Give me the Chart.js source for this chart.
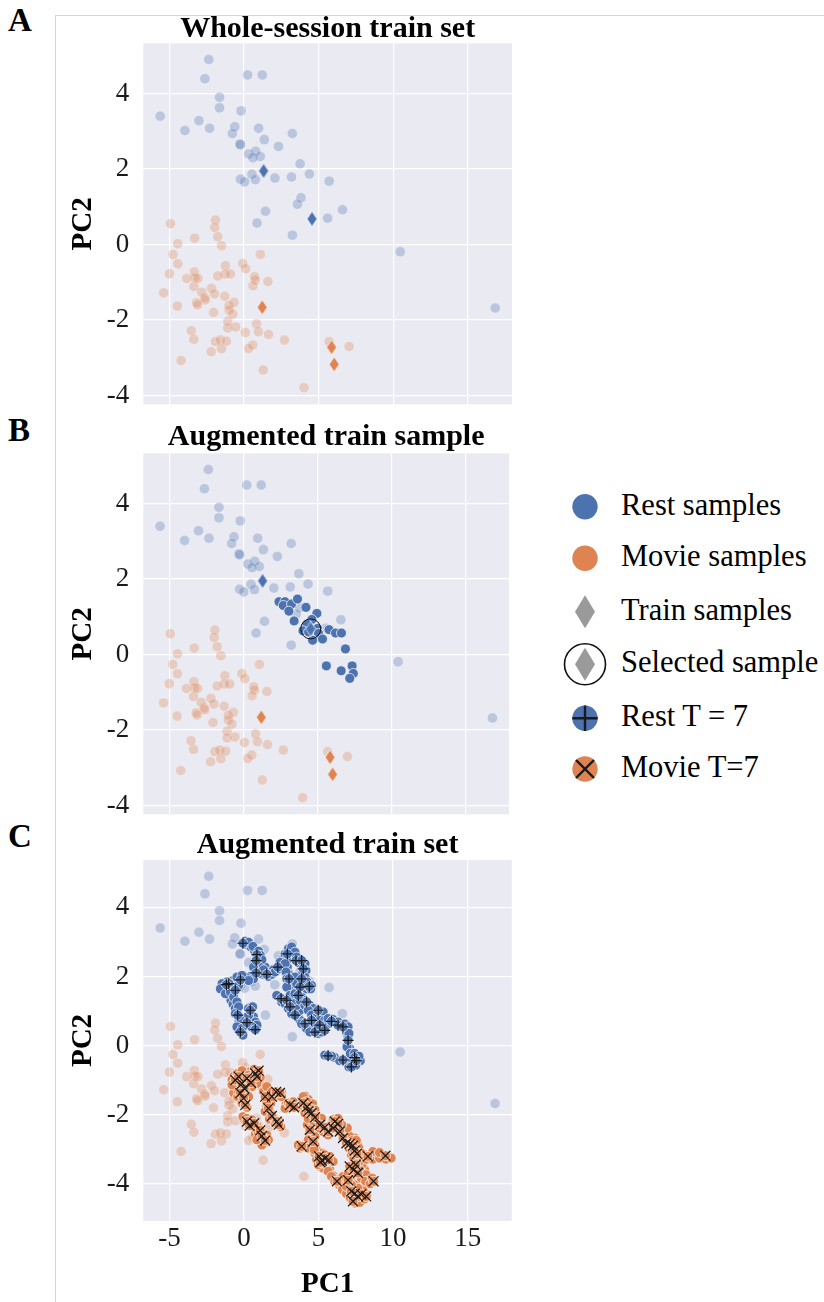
<!DOCTYPE html>
<html>
<head>
<meta charset="utf-8">
<script src="https://cdn.jsdelivr.net/npm/chart.js@4.4.1/dist/chart.umd.min.js"></script>
<style>
  html, body { margin: 0; padding: 0; background: #fff; }
  body { width: 824px; height: 1302px; position: relative; overflow: hidden;
         font-family: "Liberation Serif", "Times New Roman", serif; color: #000; }
  .frame { position: absolute; left: 55px; top: 15px; width: 769px; height: 1287px;
           border-left: 1px solid #d4d4d4; border-top: 1px solid #d4d4d4; box-sizing: border-box; }
  canvas { position: absolute; left: 0; }
  .tag { position: absolute; left: 8px; font-weight: bold; font-size: 33px; line-height: 33px; }
  .leg-text { position: absolute; left: 621px; font-size: 30.5px; line-height: 30.5px; white-space: nowrap; }
  #legendMarks { position: absolute; left: 555px; top: 480px; }
</style>
</head>
<body>
<div class="frame"></div>
<div class="tag" style="top:4px">A</div>
<div class="tag" style="top:414px">B</div>
<div class="tag" style="top:820px">C</div>

<canvas id="panelA" width="520" height="445" style="top:0px"></canvas>
<canvas id="panelB" width="520" height="435" style="top:420px"></canvas>
<canvas id="panelC" width="520" height="482" style="top:820px"></canvas>

<svg id="legendMarks" width="70" height="320"></svg>
<div id="legendText"></div>

<script>
// ---- data ----
const panelTitles = ['Whole-session train set', 'Augmented train sample', 'Augmented train set'];
const xTickValues = [-5, 0, 5, 10, 15];
const yTickValues = [-4, -2, 0, 2, 4];
const xLabel = 'PC1';
const yLabel = 'PC2';
const legendLabels = ['Rest samples', 'Movie samples', 'Train samples', 'Selected sample', 'Rest T = 7', 'Movie T=7'];

// whole-session rest samples (PC1, PC2)
const restSamples = [
  [-2.36,4.90],[-2.62,4.39],[0.24,4.49],[1.22,4.49],[-1.64,3.90],[-1.64,3.62],[-0.20,3.54],
  [-5.62,3.40],[-3.02,3.28],[-3.96,3.02],[-2.31,3.08],[-0.62,3.12],[-0.78,2.94],[0.98,3.08],
  [3.24,2.94],[1.36,2.78],[-0.24,2.64],[-0.27,2.66],[2.31,2.60],[0.31,2.40],[0.78,2.47],
  [1.09,2.33],[0.60,2.30],[3.76,2.14],[0.53,1.86],[-0.24,1.73],[0.04,1.66],[0.76,1.72],
  [2.07,1.76],[3.18,1.79],[4.38,1.87],[5.71,1.68],[3.82,1.24],[3.58,1.07],[1.44,0.88],
  [6.60,0.92],[0.87,0.57],[5.60,0.70],[3.24,0.25],[10.47,-0.19],[16.84,-1.68]
];

// whole-session movie samples (PC1, PC2)
const movieSamples = [
  [-4.93,0.55],[-1.91,0.65],[-1.96,0.45],[-1.76,0.21],[-3.31,0.17],[-4.44,0.02],[-1.51,-0.03],
  [-4.76,-0.26],[1.09,-0.26],[-4.44,-0.51],[-0.09,-0.50],[-1.24,-0.56],[0.11,-0.64],[-5.00,-0.77],
  [-3.33,-0.72],[-1.27,-0.78],[-0.91,-0.78],[-1.76,-0.83],[-3.84,-0.90],[-3.29,-0.88],[-3.09,-0.90],
  [0.71,-0.85],[0.76,-0.94],[1.60,-0.98],[0.60,-1.09],[-3.36,-1.11],[-2.18,-1.16],[-2.84,-1.26],
  [-5.38,-1.28],[-1.98,-1.31],[-2.64,-1.41],[-2.60,-1.47],[-1.29,-1.37],[-3.18,-1.54],[-3.11,-1.60],
  [-4.47,-1.63],[-0.67,-1.53],[-1.00,-1.61],[-1.00,-1.73],[-2.04,-1.80],[-0.76,-1.84],[-1.09,-2.03],
  [0.84,-2.10],[-1.09,-2.21],[-0.56,-2.18],[-3.53,-2.28],[0.09,-2.33],[0.96,-2.31],[1.64,-2.38],
  [-3.36,-2.51],[2.71,-2.53],[-1.91,-2.57],[-1.58,-2.53],[-1.18,-2.56],[0.58,-2.66],[0.31,-2.75],
  [-1.51,-2.76],[-2.20,-2.84],[5.71,-2.57],[7.04,-2.70],[-4.22,-3.07],[1.29,-3.32],[4.02,-3.79]
];

// training samples
const restTrain = [[1.31,1.95],[4.56,0.68]];
const movieTrain = [[1.22,-1.66],[5.87,-2.72],[6.04,-3.17]];

// selected training sample and its augmentations
const selectedSample = [[4.56,0.68]];
const sampleAugRest = [
  [2.42,1.40],[2.82,1.40],[2.71,1.30],[3.27,1.34],[3.67,1.47],[3.09,1.15],[4.24,1.25],
  [3.44,0.89],[4.98,1.09],[4.64,0.93],[4.31,0.80],[4.04,0.63],[5.02,0.69],[5.09,0.56],
  [4.69,0.38],[5.36,0.41],[5.80,0.66],[6.24,0.57],[6.64,0.57],[6.91,0.15],[5.62,-0.30],
  [6.62,-0.43],[7.36,-0.30],[7.44,-0.50],[7.20,-0.63],[4.42,0.60]
];

// augmented rest set
const augRest = [
  [0.20,2.92],[0.47,2.85],[0.71,2.75],[0.87,2.51],[1.13,2.35],[1.42,2.27],[1.31,2.06],
  [0.98,2.08],[0.69,2.06],[0.42,2.00],[0.16,1.96],[-0.58,1.88],[-0.80,1.87],[-1.40,1.72],
  [-1.31,1.64],[-1.13,1.55],[-0.96,1.42],[-0.87,1.31],[-0.73,1.19],[-0.58,1.07],[-0.33,0.71],
  [-0.29,0.59],[0.09,0.73],[0.64,0.83],[0.76,0.68],[-0.69,1.69],[-0.36,1.74],
  [1.76,2.13],[1.98,2.19],[2.53,2.37],[2.64,2.51],[2.76,2.65],[3.09,2.77],[3.31,2.73],
  [3.64,2.48],[4.02,2.22],[3.93,2.08],[4.09,1.79],[4.20,1.64],[2.87,2.46],[2.91,2.27],
  [2.98,2.08],[3.09,1.79],[3.31,1.69],[3.64,1.64],[2.31,1.42],[2.64,1.31],[3.27,1.02],
  [3.64,0.83],[3.87,1.40],[3.98,1.31],[4.42,1.16],[4.64,1.07],[3.76,0.73],[3.98,0.59],
  [4.42,0.59],[4.64,0.49],[4.87,0.92],[5.20,0.83],[5.31,0.97],[5.64,0.63],[6.09,0.68],
  [6.53,0.62],[6.87,0.39],[6.98,0.25],[7.09,-0.09],[7.27,-0.23],[7.58,-0.42],[7.80,-0.44],
  [7.31,-0.52],[6.87,-0.47],[6.09,-0.35],[5.76,-0.30],[4.98,0.35],[5.20,0.39],
  [0.09,3.02],[0.31,2.99],[0.60,2.87],[0.98,2.73],[1.09,2.61],[1.20,2.48],[1.04,2.27],
  [0.64,2.27],[1.31,2.19],[1.64,2.00],[1.87,2.06],[2.09,2.13],[2.38,2.22],[2.60,2.27],
  [2.42,2.41],[2.98,2.80],[3.20,2.85],[3.42,2.70],[3.53,2.56],[3.71,2.39],[4.09,2.37],
  [4.16,2.17],[4.09,1.98],[4.24,1.84],[4.53,1.74],[4.47,1.64],[2.76,2.37],[2.82,2.13],
  [2.87,1.93],[3.20,1.88],[3.42,1.98],[3.53,1.79],[2.87,1.69],[2.20,1.45],[2.53,1.26],
  [2.76,1.21],[2.98,1.07],[3.20,0.92],[3.53,0.92],[3.76,1.02],[3.53,1.16],[3.31,1.31],
  [3.09,1.45],[3.42,1.50],[3.76,1.31],[4.09,1.16],[4.31,1.02],[4.53,0.88],[4.76,0.78],
  [3.87,0.63],[4.20,0.49],[4.42,0.39],[4.87,0.44],[5.09,0.73],[5.42,0.73],[5.64,0.78],
  [5.98,0.75],[6.31,0.68],[6.76,0.62],[6.98,0.54],[7.04,0.35],[6.91,-0.04],[7.13,-0.23],
  [7.42,-0.23],[7.71,-0.31],[7.49,-0.57],[7.04,-0.62],[6.42,-0.44],[5.87,-0.31],[5.42,-0.28],
  [-1.13,1.84],[-1.47,1.79],[-1.58,1.64],[-1.24,1.50],[-0.91,1.55],[-0.69,1.40],[-0.47,1.26],
  [-0.36,1.12],[-0.58,0.92],[-0.24,0.78],[-0.47,0.54],[-0.13,0.49],[-0.07,0.30],[0.31,0.88],
  [0.31,1.07],[0.58,1.12],[0.87,0.59],[0.53,0.54],[-0.47,1.98],[-0.13,2.03],[0.64,1.93],
  [0.31,1.88]
];
const augRestT7 = [
  [-0.07,2.96],[0.87,2.63],[0.82,2.46],[1.53,2.06],[0.82,2.10],[-0.24,1.90],[-1.02,1.79],
  [-1.18,1.76],[-0.58,1.60],[-0.42,0.88],[-0.24,0.39],[0.20,0.66],[0.42,1.02],[0.76,0.46],
  [2.27,2.27],[2.91,2.65],[3.49,2.46],[3.87,2.46],[3.98,2.22],[3.87,1.93],[4.38,1.71],
  [3.76,1.69],[3.02,1.93],[2.49,1.36],[2.87,1.31],[3.09,1.12],[3.42,0.88],[3.64,1.45],
  [4.20,1.26],[4.09,0.63],[4.53,0.73],[4.76,0.39],[4.98,1.02],[5.09,0.59],[5.42,0.44],
  [5.87,0.70],[6.31,0.59],[6.64,0.54],[6.98,0.15],[7.42,-0.35],[7.20,-0.62],[7.53,-0.44],
  [6.64,-0.42],[5.64,-0.30]
];

// augmented movie set
const augMovie = [
  [-0.69,-0.90],[-0.47,-1.10],[-0.24,-0.90],[0.09,-0.81],[0.42,-0.76],[0.69,-0.69],[1.04,-0.79],
  [0.64,-1.00],[0.31,-1.19],[-0.58,-1.24],[-0.69,-1.37],[-0.42,-1.48],[0.09,-1.60],[0.20,-1.79],
  [1.20,-1.19],[1.49,-1.37],[1.64,-1.58],[1.53,-1.75],[2.20,-1.38],[2.53,-1.37],[1.80,-1.96],
  [2.02,-2.11],[2.38,-2.20],[0.02,-2.15],[0.47,-2.27],[0.87,-2.33],[1.13,-2.46],[1.31,-2.63],
  [1.42,-2.81],[1.04,-2.73],[0.76,-2.56],[2.82,-1.69],[3.20,-1.79],[3.53,-1.67],[3.87,-1.56],
  [4.09,-1.46],[4.31,-1.56],[4.60,-1.69],[4.76,-1.87],[4.87,-2.04],[4.53,-2.15],[4.24,-2.30],
  [4.38,-2.54],[4.53,-2.68],[4.76,-2.88],[4.98,-3.07],[5.27,-3.12],[5.53,-3.45],[5.76,-3.60],
  [5.98,-3.77],[6.24,-3.88],[6.53,-4.06],[6.76,-4.22],[7.04,-4.37],[7.27,-4.48],[7.64,-4.46],
  [7.98,-4.35],[7.76,-4.17],[7.49,-4.03],[6.98,-3.93],[6.64,-3.88],[7.20,-3.79],[7.87,-3.74],
  [8.09,-3.60],[7.93,-3.45],[7.42,-3.36],[7.20,-3.16],[7.04,-2.97],[6.98,-2.78],[6.87,-2.59],
  [6.64,-2.44],[6.42,-2.20],[6.24,-2.11],[5.87,-2.27],[5.53,-2.39],[5.20,-2.25],[4.98,-2.11],
  [7.42,-2.68],[7.64,-2.88],[7.76,-3.07],[8.09,-3.16],[8.53,-3.16],[8.98,-3.16],[9.31,-3.21],
  [9.76,-3.23],[5.09,-3.26],[5.42,-3.36],[5.87,-3.31],[4.76,-3.12],[8.38,-3.88],[8.69,-3.96],
  [3.76,-2.97],[3.98,-2.88],
  [-0.80,-1.00],[-0.80,-1.14],[-0.42,-0.81],[-0.13,-0.73],[0.31,-0.86],[0.53,-0.90],[1.09,-0.92],
  [0.87,-1.10],[0.53,-1.19],[0.09,-1.34],[0.31,-1.48],[-0.13,-1.67],[-0.36,-1.34],[1.31,-1.34],
  [1.53,-1.19],[1.87,-1.34],[2.09,-1.48],[2.53,-1.48],[1.80,-1.67],[1.53,-1.63],[1.42,-1.91],
  [1.71,-2.13],[2.09,-2.25],[2.47,-2.35],[-0.07,-2.06],[0.20,-2.11],[0.53,-2.15],[0.76,-2.39],
  [0.98,-2.54],[1.09,-2.63],[1.53,-2.59],[1.64,-2.73],[1.20,-2.88],[0.87,-2.73],
  [2.76,-1.82],[2.98,-1.67],[3.31,-1.63],[3.64,-1.77],[3.87,-1.72],[3.98,-1.48],[4.20,-1.63],
  [4.42,-1.82],[4.09,-1.96],[4.31,-2.11],[4.76,-2.20],[4.64,-2.35],[4.87,-2.49],[4.76,-2.63],
  [4.31,-2.73],[4.02,-2.92],[4.29,-2.97],[4.71,-3.02],[5.09,-3.50],[5.31,-3.55],[5.64,-3.64],
  [5.87,-3.79],[6.09,-3.93],[6.38,-4.03],[6.60,-4.17],[6.87,-4.29],[7.13,-4.41],[7.42,-4.56],
  [7.76,-4.54],[8.09,-4.44],[8.24,-4.32],[7.98,-4.19],[7.64,-4.13],[7.20,-4.03],[6.87,-4.08],
  [6.64,-3.79],[6.98,-3.71],[7.42,-3.69],[7.76,-3.60],[7.87,-3.84],[8.20,-3.74],[8.16,-3.93],
  [8.47,-4.00],[8.60,-3.84],[7.71,-3.36],[7.36,-3.26],[7.27,-3.07],[7.42,-2.97],[7.71,-2.97],
  [7.87,-3.12],[8.20,-3.29],[8.64,-3.29],[9.09,-3.26],[9.53,-3.29],[9.87,-3.26],[8.64,-3.07],
  [9.09,-3.10],[6.76,-2.54],[7.09,-2.63],[7.27,-2.75],[7.53,-2.75],[6.93,-2.39],[6.56,-2.30],
  [6.20,-2.30],[5.98,-2.15],[6.31,-2.11],[5.76,-2.39],[5.31,-2.49],[5.09,-2.39],[5.20,-2.11],
  [5.64,-2.59],[5.42,-3.16],[5.76,-3.21],[5.98,-3.36],[4.87,-3.31],[4.98,-3.45],[5.31,-3.40],
  [3.64,-2.88]
];
const augMovieT7 = [
  [-0.58,-1.00],[-0.36,-0.90],[-0.13,-1.10],[0.02,-1.24],[0.20,-0.95],[0.47,-1.08],[0.76,-0.81],
  [0.98,-0.73],[0.87,-0.90],[-0.24,-1.38],[-0.02,-1.53],[0.09,-1.72],[1.42,-1.48],[1.87,-1.48],
  [2.16,-1.34],[2.42,-1.37],[1.64,-1.82],[1.87,-2.04],[2.20,-2.20],[2.33,-2.29],[0.20,-2.20],
  [0.38,-2.32],[0.69,-2.25],[1.09,-2.46],[1.20,-2.62],[1.42,-2.75],[3.09,-1.72],[3.36,-1.79],
  [3.98,-1.67],[4.24,-1.77],[4.31,-1.91],[4.53,-1.96],[4.76,-2.08],[4.42,-2.44],[4.64,-2.78],
  [5.09,-2.30],[5.42,-2.37],[5.64,-2.49],[6.09,-2.20],[6.31,-2.27],[6.42,-2.49],[6.64,-2.68],
  [6.87,-2.83],[7.09,-2.85],[7.31,-2.90],[7.42,-3.04],[7.58,-3.13],[7.09,-3.50],[7.36,-3.60],
  [7.64,-3.69],[7.49,-3.45],[5.04,-3.21],[5.22,-3.33],[5.44,-3.27],[5.67,-3.31],[5.13,-3.38],
  [3.87,-2.92],[6.24,-3.93],[6.98,-3.90],[7.20,-4.22],[7.42,-4.29],[7.64,-4.37],[7.87,-4.31],
  [8.20,-4.37],[7.31,-4.51],[8.31,-3.21],[9.49,-3.19],[8.69,-3.93],[5.98,-2.39]
];

// ---- styling ----
const BLUE = '#4C72B0';
const ORANGE = '#DD8452';
const BLUE_FADED = 'rgba(76,114,176,0.3)';
const ORANGE_FADED = 'rgba(221,132,82,0.3)';
const EDGE_FADED = 'rgba(255,255,255,0.3)';
const SERIF = '"Liberation Serif", "Times New Roman", serif';

const X_RANGE = [-6.75, 17.96];
const Y_RANGE_AB = [-4.23, 5.33];
const Y_RANGE_C = [-5.08, 5.37];

const pts = arr => arr.map(([x, y]) => ({ x, y }));

function diamondSprite(color, w, h) {
  const c = document.createElement('canvas');
  c.width = w + 2; c.height = h + 2;
  const g = c.getContext('2d');
  g.beginPath();
  g.moveTo(c.width / 2, 1);
  g.lineTo(c.width - 1, c.height / 2);
  g.lineTo(c.width / 2, c.height - 1);
  g.lineTo(1, c.height / 2);
  g.closePath();
  g.fillStyle = color; g.fill();
  g.strokeStyle = '#ffffff'; g.lineWidth = 0.7; g.stroke();
  return c;
}
const blueDiamond = diamondSprite(BLUE, 10, 15);
const orangeDiamond = diamondSprite(ORANGE, 10, 15);

function circles(data, fill, edge, order, r) {
  return { data: pts(data), pointStyle: 'circle', pointRadius: r || 5.0, backgroundColor: fill,
           borderColor: edge, borderWidth: 0.7, order };
}
function markers(data, style, order, r) {
  return { data: pts(data), pointStyle: style, pointRadius: r, backgroundColor: 'transparent',
           borderColor: '#1a1a1a', borderWidth: 1.2, order };
}
function sprites(data, img, order) {
  return { data: pts(data), pointStyle: img, pointRadius: 7, order };
}

const baseLayer = () => [
  circles(restSamples, BLUE_FADED, EDGE_FADED, 20),
  circles(movieSamples, ORANGE_FADED, EDGE_FADED, 19)
];

// plot background
const plotBg = {
  id: 'plotBg',
  beforeDraw(chart) {
    const { ctx, chartArea: a } = chart;
    ctx.save();
    ctx.fillStyle = '#EAEAF2';
    ctx.fillRect(a.left, a.top, a.right - a.left, a.bottom - a.top);
    ctx.restore();
  }
};
// panel title centred over the plot area
const panelTitle = {
  id: 'panelTitle',
  afterDraw(chart, args, opts) {
    const { ctx, chartArea: a } = chart;
    ctx.save();
    ctx.font = 'bold 30px ' + SERIF;
    ctx.fillStyle = '#000';
    ctx.textAlign = 'center';
    ctx.textBaseline = 'alphabetic';
    ctx.fillText(opts.text, (a.left + a.right) / 2, a.top - opts.gap);
    ctx.restore();
  }
};

function makePanel(id, title, datasets, cfg) {
  const showX = cfg.showX;
  return new Chart(document.getElementById(id), {
    type: 'scatter',
    data: { datasets },
    plugins: [plotBg, panelTitle],
    options: {
      responsive: false,
      animation: false,
      events: [],
      layout: { padding: { left: 60, right: 7.3, top: cfg.top, bottom: 0 } },
      plugins: {
        legend: { display: false },
        tooltip: { enabled: false },
        panelTitle: { text: title, gap: cfg.gap }
      },
      scales: {
        x: {
          type: 'linear', min: X_RANGE[0], max: X_RANGE[1],
          afterBuildTicks: s => { s.ticks = xTickValues.map(v => ({ value: v })); },
          afterFit: s => { s.height = cfg.xh; },
          border: { display: false },
          grid: { color: '#ffffff', lineWidth: 1.2, drawTicks: false },
          ticks: { display: showX, color: '#1a1a1a', padding: 2, maxRotation: 0,
                   font: { family: SERIF, size: 27 } },
          title: { display: showX, text: xLabel, color: '#000', padding: { top: 0, bottom: 0 },
                   font: { family: SERIF, size: 29, weight: 'bold' } }
        },
        y: {
          type: 'linear', min: cfg.yr[0], max: cfg.yr[1],
          afterBuildTicks: s => { s.ticks = yTickValues.map(v => ({ value: v })); },
          afterFit: s => { s.width = 83.3; },
          border: { display: false },
          grid: { color: '#ffffff', lineWidth: 1.2, drawTicks: false },
          ticks: { color: '#1a1a1a', padding: 14, font: { family: SERIF, size: 27 } },
          title: { display: true, text: yLabel, color: '#000', padding: { top: 6, bottom: 0 },
                   font: { family: SERIF, size: 29, weight: 'bold' } }
        }
      }
    }
  });
}

// A: whole-session train set
makePanel('panelA', panelTitles[0], [
  sprites(restTrain, blueDiamond, 5),
  sprites(movieTrain, orangeDiamond, 5),
  ...baseLayer()
], { top: 43.3, xh: 40.7, yr: Y_RANGE_AB, gap: 6, showX: false });

// B: augmentations of one selected sample
makePanel('panelB', panelTitles[1], [
  { data: pts(selectedSample), pointStyle: 'circle', pointRadius: 10, backgroundColor: 'transparent',
    borderColor: '#111', borderWidth: 1, order: 1 },
  sprites(selectedSample, blueDiamond, 2),
  circles(sampleAugRest, BLUE, '#ffffff', 8),
  sprites(restTrain, blueDiamond, 9),
  sprites(movieTrain, orangeDiamond, 9),
  ...baseLayer()
], { top: 33.3, xh: 40.7, yr: Y_RANGE_AB, gap: 8, showX: false });

// C: full augmented train set
makePanel('panelC', panelTitles[2], [
  markers(augRestT7, 'cross', 1, 5.5),
  markers(augMovieT7, 'crossRot', 1, 7),
  circles(augRestT7, BLUE, '#ffffff', 6),
  circles(augMovieT7, ORANGE, '#ffffff', 6),
  circles(augRest, BLUE, '#ffffff', 7),
  circles(augMovie, ORANGE, '#ffffff', 7),
  ...baseLayer()
], { top: 40, xh: 81, yr: Y_RANGE_C, gap: 7, showX: true });

// ---- legend ----
const legendRows = [506.7, 558.3, 611.7, 664.3, 718.3, 769];
const svgNS = 'http://www.w3.org/2000/svg';
const svg = document.getElementById('legendMarks');
const ox = 555, oy = 480, cx = 585 - ox;
function add(tag, attrs) {
  const el = document.createElementNS(svgNS, tag);
  for (const k in attrs) el.setAttribute(k, attrs[k]);
  svg.appendChild(el);
}
function diamondPath(cy) {
  return `M${cx},${cy - 16.5} L${cx + 10},${cy} L${cx},${cy + 16.5} L${cx - 10},${cy} Z`;
}
const r0 = legendRows.map(v => v - oy);
add('circle', { cx, cy: r0[0], r: 12.7, fill: BLUE });
add('circle', { cx, cy: r0[1], r: 12.7, fill: ORANGE });
add('path', { d: diamondPath(r0[2]), fill: '#9a9a9a' });
add('circle', { cx, cy: r0[3], r: 20.5, fill: 'none', stroke: '#111', 'stroke-width': 1.6 });
add('path', { d: diamondPath(r0[3]), fill: '#9a9a9a' });
add('circle', { cx, cy: r0[4], r: 12.7, fill: BLUE });
add('path', { d: `M${cx - 12.7},${r0[4]} H${cx + 12.7} M${cx},${r0[4] - 12.7} V${r0[4] + 12.7}`,
              stroke: '#1a1a1a', 'stroke-width': 2.4 });
add('circle', { cx, cy: r0[5], r: 12.7, fill: ORANGE });
add('path', { d: `M${cx - 9},${r0[5] - 9} L${cx + 9},${r0[5] + 9} M${cx - 9},${r0[5] + 9} L${cx + 9},${r0[5] - 9}`,
              stroke: '#1a1a1a', 'stroke-width': 2.4 });

const legendText = document.getElementById('legendText');
legendLabels.forEach((t, i) => {
  const d = document.createElement('div');
  d.className = 'leg-text';
  d.style.top = (legendRows[i] - 17) + 'px';
  d.textContent = t;
  legendText.appendChild(d);
});
</script>
</body>
</html>
